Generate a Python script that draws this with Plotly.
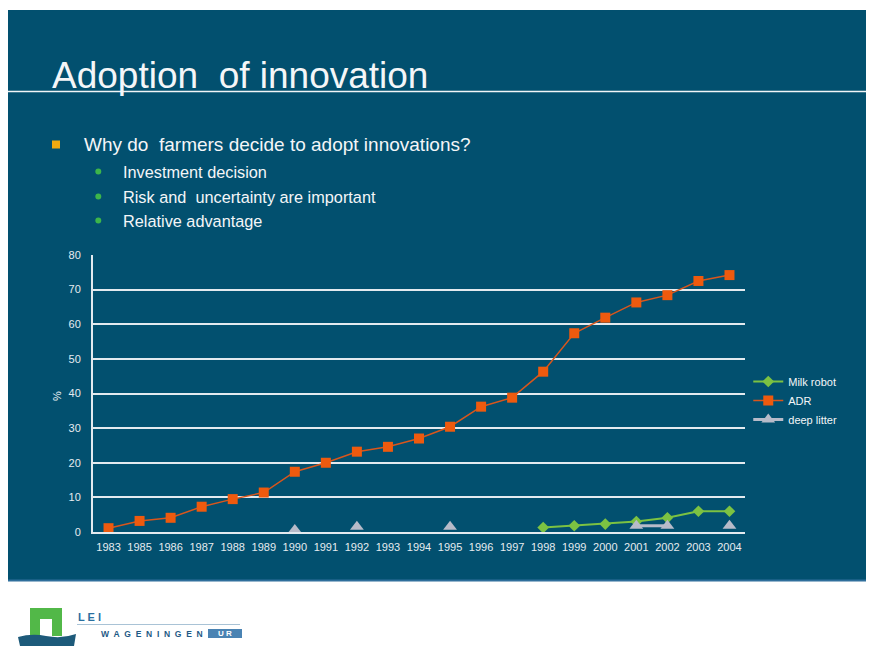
import plotly.graph_objects as go

# ---------------- data ----------------
years = ['1983', '1985', '1986', '1987', '1988', '1989', '1990', '1991', '1992', '1993',
         '1994', '1995', '1996', '1997', '1998', '1999', '2000', '2001', '2002', '2003', '2004']
adr = [1.1, 3.2, 4.1, 7.3, 9.5, 11.4, 17.4, 20.0, 23.2, 24.6,
       27.0, 30.4, 36.2, 38.8, 46.3, 57.4, 61.9, 66.3, 68.4, 72.5, 74.2]
milk_robot = [None] * 14 + [1.3, 1.8, 2.3, 3.0, 4.1, 6.0, 6.0]
deep_litter = [None, None, None, None, None, None, 0.6, None, 1.5, None,
               None, 1.5, None, None, None, None, None, 1.8, 1.8, None, 1.8]
y_ticks = [0, 10, 20, 30, 40, 50, 60, 70, 80]

# ---------------- geometry helpers (decoration placement) ----------------
W_FIG, H_FIG = 869, 646
L, R, T, B = 93, 745, 255, 532
PW, PH = R - L, B - T


def px(x):
    return (x - L) / PW


def py(y):
    return (B - y) / PH


FONT = "Liberation Sans, Arial, sans-serif"
SLIDE = "#02506f"
GRID = "#e3eaef"

fig = go.Figure()
fig.add_trace(go.Scatter(
    x=years, y=milk_robot, name="Milk robot", mode="lines+markers",
    line=dict(color="#7cc242", width=2),
    marker=dict(symbol="diamond", size=9, color="#7cc242"),
))
fig.add_trace(go.Scatter(
    x=years, y=adr, name="ADR", mode="lines+markers",
    line=dict(color="#d9561c", width=1.5),
    marker=dict(symbol="square", size=10, color="#ee5a0e"),
))
fig.add_trace(go.Scatter(
    x=years, y=deep_litter, name="deep litter", mode="lines+markers",
    line=dict(color="#b7bbc9", width=3), connectgaps=False,
    marker=dict(symbol="triangle-up", size=12, color="#b7bbc9"),
))

shapes = []
# slide background
shapes.append(dict(type="rect", xref="paper", yref="paper", layer="below",
                   x0=px(8), x1=px(866), y0=py(580), y1=py(10),
                   fillcolor=SLIDE, line=dict(width=0)))
# bottom edge
shapes.append(dict(type="line", xref="paper", yref="paper", layer="below",
                   x0=px(8), x1=px(866), y0=py(580.5), y1=py(580.5),
                   line=dict(color="#2f6f9c", width=2)))
# title underline
shapes.append(dict(type="line", xref="paper", yref="paper", layer="below",
                   x0=px(8), x1=px(866), y0=py(91.5), y1=py(91.5),
                   line=dict(color="#f2f5f7", width=1.5)))
# bullets
shapes.append(dict(type="rect", xref="paper", yref="paper", layer="below",
                   x0=px(52), x1=px(60), y0=py(148.5), y1=py(140.5),
                   fillcolor="#f0aa10", line=dict(width=0)))
for yc in (171.5, 196.5, 220.5):
    shapes.append(dict(type="circle", xref="paper", yref="paper", layer="below",
                       x0=px(95.3), x1=px(101.3), y0=py(yc + 3), y1=py(yc - 3),
                       fillcolor="#3db54a", line=dict(width=0)))

# logo: green gate
shapes.append(dict(type="rect", xref="paper", yref="paper", layer="below",
                   x0=px(30), x1=px(62), y0=py(636), y1=py(608),
                   fillcolor="#52b848", line=dict(width=0)))
shapes.append(dict(type="rect", xref="paper", yref="paper", layer="below",
                   x0=px(40), x1=px(52), y0=py(636), y1=py(619),
                   fillcolor="#ffffff", line=dict(width=0)))
# logo: waves
wave = "M{},{} Q{},{} {},{} Q{},{} {},{} L{},{} L{},{} Z".format(
    px(18), py(637), px(32), py(633), px(46), py(636),
    px(62), py(639), px(76), py(634),
    px(74), py(646), px(20), py(646))
shapes.append(dict(type="path", xref="paper", yref="paper", layer="below",
                   path=wave, fillcolor="#1d5a7a", line=dict(width=0)))
# logo: separator line
shapes.append(dict(type="line", xref="paper", yref="paper", layer="below",
                   x0=px(77), x1=px(240), y0=py(624.5), y1=py(624.5),
                   line=dict(color="#a9c3d6", width=1)))
# logo: UR box
shapes.append(dict(type="rect", xref="paper", yref="paper", layer="below",
                   x0=px(208), x1=px(242), y0=py(638), y1=py(629),
                   fillcolor="#4a83b3", line=dict(width=0)))

annotations = []


def add_text(text, x, y, size, color="#f4f6f8", xanchor="left", angle=0, bold=False):
    annotations.append(dict(
        text=("<b>%s</b>" % text) if bold else text,
        xref="paper", yref="paper", x=px(x), y=py(y),
        xanchor=xanchor, yanchor="middle", showarrow=False,
        textangle=angle, font=dict(family=FONT, size=size, color=color),
    ))


add_text("Adoption\u00a0 of innovation", 50, 76, 37)
add_text("Why do\u00a0 farmers decide to adopt innovations?", 82, 145, 19)
add_text("Investment decision", 121, 171.5, 16.3)
add_text("Risk and\u00a0 uncertainty are important", 121, 196.5, 16.3)
add_text("Relative advantage", 121, 220.5, 16.3)
add_text("%", 57, 396, 11, xanchor="center", angle=-90)
add_text("L E I", 76, 617, 11, color="#2a6fa0", bold=True)
add_text("W\u00a0 A\u00a0 G\u00a0 E\u00a0 N\u00a0 I\u00a0 N\u00a0 G\u00a0 E\u00a0 N", 99, 633.5, 8.5,
         color="#1f5a86", bold=True)
add_text("U R", 225, 633.5, 8, color="#ffffff", xanchor="center", bold=True)

fig.update_layout(
    width=W_FIG, height=H_FIG,
    margin=dict(l=L, r=W_FIG - R, t=T, b=H_FIG - B, pad=0),
    paper_bgcolor="#ffffff",
    plot_bgcolor="rgba(0,0,0,0)",
    font=dict(family=FONT, color="#f4f6f8"),
    shapes=shapes,
    annotations=annotations,
    showlegend=True,
    legend=dict(x=1.005, xanchor="left", y=py(400.5), yanchor="middle",
                bgcolor="rgba(0,0,0,0)", font=dict(family=FONT, size=11, color="#f4f6f8"),
                itemwidth=30),
)
fig.update_xaxes(
    type="category", categoryorder="array", categoryarray=years,
    range=[-0.5, len(years) - 0.5],
    showgrid=False, showline=True, linecolor=GRID, linewidth=2,
    ticks="", tickfont=dict(family=FONT, size=11, color="#e6ecf0"),
    ticklabelstandoff=4, zeroline=False,
)
fig.update_yaxes(
    range=[0, 80], tickvals=y_ticks,
    showgrid=True, gridcolor=GRID, gridwidth=2,
    showline=True, linecolor=GRID, linewidth=2,
    ticks="", tickfont=dict(family=FONT, size=11, color="#e6ecf0"),
    ticklabelstandoff=8, zeroline=False,
)

fig.write_html("out.html", config={"displayModeBar": False},
               post_script="document.body.style.margin='0px';")
